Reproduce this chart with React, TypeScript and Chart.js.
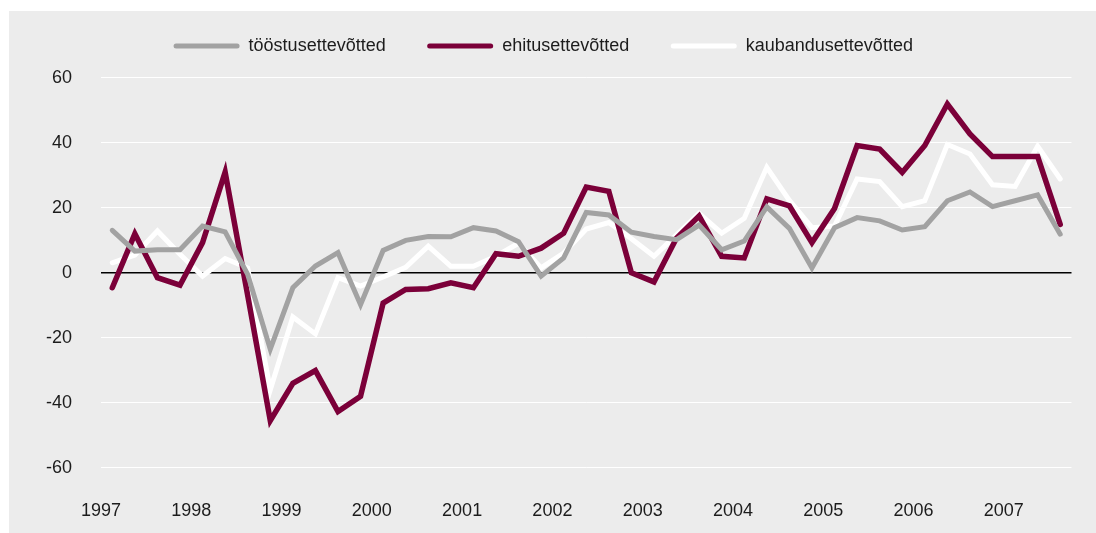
import React, { useEffect, useRef } from "react";
import { Chart, registerables } from "chart.js";

Chart.register(...registerables);

// Quarterly observations, 1997 Q1 – 2007 Q3
const startYear = 1997;
const quarterCount = 43;
const yearTicks = [0, 4, 8, 12, 16, 20, 24, 28, 32, 36, 40];
const yTicks = [-60, -40, -20, 0, 20, 40, 60];

const seriesNames = ["tööstusettevõtted", "ehitusettevõtted", "kaubandusettevõtted"];

const toostus = [
  13.1, 6.7, 7.1, 7.1, 14.4, 12.6, -0.5, -23.5,
  -4.6, 2.1, 6.2, -9.8, 6.9, 10, 11.2, 11.1,
  13.9, 12.9, 9.6, -1, 4.6, 18.6, 17.8, 12.5,
  11.2, 10.2, 14.7, 7.1, 9.8, 20.3, 13.7, 1.5,
  13.9, 17, 16, 13.2, 14.2, 22.2, 24.9, 20.4,
  22.2, 24, 11.9,
];

const ehitus = [
  -4.6, 12, -1.5, -3.8, 9.3, 31, -7, -45.5,
  -34, -30.1, -42.7, -38, -9.3, -5.1, -4.9, -3.1,
  -4.6, 5.9, 5.1, 7.6, 12.2, 26.4, 25.1, 0,
  -2.8, 10.7, 17.5, 5.1, 4.6, 22.8, 20.6, 9.3,
  19.8, 39.2, 38.1, 30.9, 39.2, 52, 42.8, 35.8,
  35.8, 35.8, 14.9,
];

const kaubandus = [
  3.1, 5.5, 12.9, 5.7, -1, 4.4, 1.5, -36,
  -13.6, -18.8, -1.5, -4.1, -1.3, 1.7, 8.2, 2.0,
  2.0, 5.1, 9.1, 1.5, 6.1, 13.5, 15.5, 10.5,
  5.1, 11.7, 18.3, 12.2, 16.8, 32.5, 22.3, 13.9,
  14.4, 28.9, 28.1, 20.4, 22.2, 39.5, 36.6, 27.1,
  26.6, 39, 28.9,
];

const seriesColors = ["#a2a2a2", "#7b0039", "#ffffff"];
const seriesWidths = [5, 5.5, 5];
const FONT = "'Liberation Sans', Arial, Helvetica, sans-serif";
const TEXT = "#1c1c1c";

function toPoints(values: number[]) {
  return values.map((v, i) => ({ x: i + 0.5, y: v }));
}

const legendShift = {
  id: "legendShift",
  afterLayout(chart: any) {
    const l = chart.legend;
    if (l) {
      l.left += 7.5;
      l.right += 7.5;
    }
  },
};

export default function App() {
  const ref = useRef<HTMLCanvasElement | null>(null);

  useEffect(() => {
    if (!ref.current) return;
    const allSeries = [toostus, ehitus, kaubandus];
    const chart = new Chart(ref.current, {
      type: "line",
      data: {
        datasets: allSeries.map((vals, k) => ({
          label: seriesNames[k],
          data: toPoints(vals),
          borderColor: seriesColors[k],
          backgroundColor: seriesColors[k],
          borderWidth: seriesWidths[k],
          pointRadius: 0,
          tension: 0,
          fill: false,
          borderCapStyle: "round" as const,
          borderJoinStyle: "miter" as const,
        })),
      },
      options: {
        responsive: false,
        animation: false,
        devicePixelRatio: 1,
        events: [],
        layout: { padding: { left: 0, right: 24.5, top: -4.5, bottom: 1 } },
        plugins: {
          tooltip: { enabled: false },
          legend: {
            display: true,
            position: "top",
            labels: {
              boxWidth: 66,
              boxHeight: 5,
              padding: 41.5,
              color: TEXT,
              font: { family: FONT, size: 18 },
              useBorderRadius: true,
              borderRadius: 2.5,
              generateLabels: (c: any) =>
                c.data.datasets.map((ds: any, i: number) => ({
                  text: ds.label,
                  fillStyle: ds.borderColor,
                  strokeStyle: ds.borderColor,
                  lineWidth: 0,
                  hidden: false,
                  datasetIndex: i,
                  fontColor: TEXT,
                  borderRadius: 2.5,
                })),
            },
          },
        },
        scales: {
          x: {
            type: "linear",
            min: 0,
            max: quarterCount,
            afterBuildTicks: (scale: any) => {
              scale.ticks = yearTicks.map((v) => ({ value: v }));
            },
            ticks: {
              autoSkip: false,
              maxRotation: 0,
              padding: 10,
              color: TEXT,
              font: { family: FONT, size: 18 },
              callback: (v: any) => String(startYear + Number(v) / 4),
            },
            grid: { display: false, drawTicks: false },
            border: { display: false },
          },
          y: {
            type: "linear",
            min: -67,
            max: 64,
            afterBuildTicks: (scale: any) => {
              scale.ticks = yTicks.map((v) => ({ value: v }));
            },
            afterFit: (scale: any) => {
              scale.width = 101;
            },
            ticks: {
              padding: 29,
              color: TEXT,
              font: { family: FONT, size: 18 },
              callback: (v: any) => String(v),
            },
            grid: {
              drawTicks: false,
              color: (ctx: any) => (ctx.tick && ctx.tick.value === 0 ? "#000000" : "#ffffff"),
              lineWidth: (ctx: any) => (ctx.tick && ctx.tick.value === 0 ? 1.5 : 1),
            },
            border: { display: false },
          },
        },
      },
      plugins: [legendShift],
    });
    return () => chart.destroy();
  }, []);

  return (
    <div
      style={{
        position: "fixed",
        left: 0,
        top: 0,
        width: 1096,
        height: 533,
        background: "#ffffff",
        overflow: "hidden",
      }}
    >
      <div
        style={{
          position: "absolute",
          left: 9,
          top: 11,
          width: 1087,
          height: 522,
          background: "#ececec",
        }}
      />
      <canvas
        ref={ref}
        width={1096}
        height={533}
        style={{ position: "absolute", left: 0, top: 0, width: 1096, height: 533 }}
      />
    </div>
  );
}
